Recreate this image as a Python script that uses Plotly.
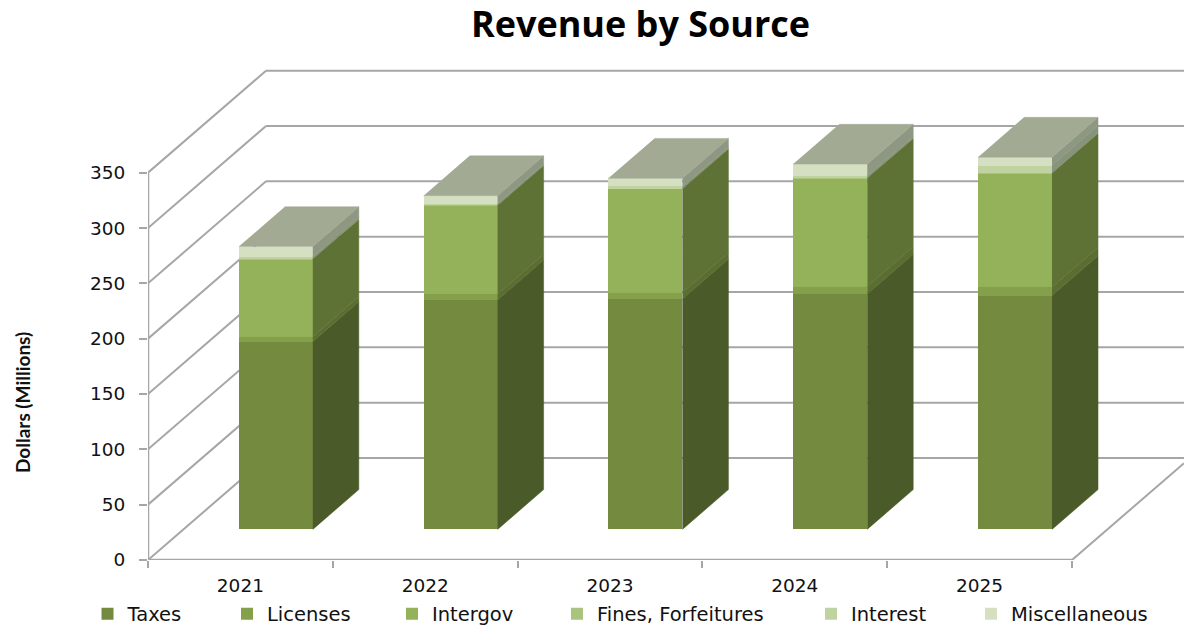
import plotly.graph_objects as go

# Revenue by source, fiscal years 2021-2025 (millions of dollars)
years = ["2021", "2022", "2023", "2024", "2025"]
taxes = [169.7, 207.4, 208.3, 212.8, 211.3]
licenses = [4.5, 5.2, 5.7, 6.6, 7.6]
intergov = [70.0, 80.0, 93.7, 98.0, 103.0]
fines = [0.8, 0.7, 0.7, 0.7, 0.5]
interest = [1.5, 1.0, 1.5, 1.5, 6.4]
miscellaneous = [9.1, 7.3, 7.5, 10.5, 7.6]

series_names = ["Taxes", "Licenses", "Intergov", "Fines, Forfeitures", "Interest", "Miscellaneous"]
series_values = [taxes, licenses, intergov, fines, interest, miscellaneous]
front_colors = ["#748B3F", "#84A04A", "#93B259", "#A9C47F", "#BFD2A0", "#D5E0C2"]
side_colors = ["#4A5A29", "#5B6E31", "#5F7236", "#6E7F4E", "#87937A", "#8E9782"]
top_color = "#A2AA93"
grid_color = "#A6A6A6"
text_color = "#111111"

y_ticks = [0, 50, 100, 150, 200, 250, 300, 350]

# Oblique projection: one unit of depth shifts a point right and up in data units
PX_PER_CATEGORY = 184.8
PX_PER_VALUE = 1.1066
DEPTH_X = 118 / PX_PER_CATEGORY
DEPTH_Y = 102 / PX_PER_VALUE
BAR_WIDTH = 74 / PX_PER_CATEGORY
BAR_NEAR = 0.30
BAR_FAR = 0.69

PLOT_LEFT, PLOT_BOTTOM, PLOT_TOP = 148, 560, 60
X_MIN = -0.5
X_MAX = X_MIN + (1184 - PLOT_LEFT) / PX_PER_CATEGORY
X_END = X_MIN + len(years)
Y_MAX = (PLOT_BOTTOM - PLOT_TOP) / PX_PER_VALUE


def project(x, value, depth):
    return x + depth * DEPTH_X, value + depth * DEPTH_Y


def wall_line(x0, y0, x1, y1, width=2):
    return dict(type="line", layer="below", xref="x", yref="y", x0=x0, y0=y0, x1=x1, y1=y1,
                line=dict(color=grid_color, width=width))


shapes = []
for v in y_ticks:
    bx, by = project(X_MIN, v, 1)
    shapes.append(wall_line(X_MIN, v, bx, by))        # side wall
    shapes.append(wall_line(bx, by, X_MAX, by))       # back wall
fx, fy = project(X_END, 0, (X_MAX - X_END) / DEPTH_X)
shapes.append(wall_line(X_END, 0, fx, fy))            # right edge of the floor
shapes.append(wall_line(X_MIN, 0, X_MIN, y_ticks[-1], 2.5))  # value axis
shapes.append(wall_line(X_MIN, 0, X_END, 0, 2.5))     # category axis

fig = go.Figure()

centers = list(range(len(years)))
bar_x = [project(c, 0, BAR_NEAR)[0] for c in centers]
floor = project(0, 0, BAR_NEAR)[1]
running = [floor] * len(years)

legend_text_px = [127.5, 267, 432, 597, 851, 1011]
legend_keys = ["legend", "legend2", "legend3", "legend4", "legend5", "legend6"]
legends = {}

for k, (name, values) in enumerate(zip(series_names, series_values)):
    bases = list(running)
    fig.add_trace(go.Bar(
        x=bar_x, y=values, base=bases, width=BAR_WIDTH, name=name,
        marker=dict(color=front_colors[k], line=dict(width=0)),
        legend=legend_keys[k], customdata=years, hovertemplate="%{customdata}: %{y}<extra>" + name + "</extra>",
    ))
    # right-hand face of each stacked segment
    sx, sy = [], []
    for i, c in enumerate(centers):
        right = c + BAR_WIDTH / 2
        top = bases[i] - floor + values[i]
        low = bases[i] - floor
        for v, d in [(low, BAR_NEAR), (low, BAR_FAR), (top, BAR_FAR), (top, BAR_NEAR)]:
            px, py = project(right, v, d)
            sx.append(px)
            sy.append(py)
        sx.append(None)
        sy.append(None)
        running[i] = bases[i] + values[i]
    fig.add_trace(go.Scatter(
        x=sx, y=sy, mode="lines", fill="toself", fillcolor=side_colors[k],
        line=dict(color=side_colors[k], width=0.5), showlegend=False, hoverinfo="skip",
    ))
    legends[legend_keys[k]] = dict(
        x=(legend_text_px[k] - 40 - PLOT_LEFT) / (1184 - PLOT_LEFT),
        y=(PLOT_BOTTOM - 614) / (PLOT_BOTTOM - PLOT_TOP),
        xanchor="left", yanchor="middle", orientation="h", bgcolor="rgba(0,0,0,0)",
        font=dict(family="DejaVu Sans", size=19.5, color=text_color),
        tracegroupgap=0, itemclick=False, itemdoubleclick=False,
    )

# Top faces of the stacks
tx, ty = [], []
for i, c in enumerate(centers):
    height = running[i] - floor
    left, right = c - BAR_WIDTH / 2, c + BAR_WIDTH / 2
    for x, d in [(left, BAR_NEAR), (right, BAR_NEAR), (right, BAR_FAR), (left, BAR_FAR)]:
        px, py = project(x, height, d)
        tx.append(px)
        ty.append(py)
    tx.append(None)
    ty.append(None)
fig.add_trace(go.Scatter(
    x=tx, y=ty, mode="lines", fill="toself", fillcolor=top_color,
    line=dict(color=top_color, width=0.5), showlegend=False, hoverinfo="skip",
))

fig.update_layout(
    width=1184, height=626,
    margin=dict(l=PLOT_LEFT, r=0, t=PLOT_TOP, b=626 - PLOT_BOTTOM, pad=0, autoexpand=False),
    paper_bgcolor="white", plot_bgcolor="white",
    barmode="overlay", bargap=0,
    title=dict(
        text="Revenue by Source", x=640.5 / 1184, xanchor="center", y=1 - 24 / 626, yanchor="middle",
        font=dict(family="Open Sans", size=36, weight=700, color="#000000"),
    ),
    xaxis=dict(
        range=[X_MIN, X_MAX], showgrid=False, zeroline=False, showline=False,
        tickmode="array", tickvals=centers, ticktext=years, ticks="", ticklabelstandoff=12,
        tickfont=dict(family="DejaVu Sans", size=18.5, color=text_color),
        minor=dict(
            tickmode="array", tickvals=[X_MIN + j for j in range(len(years) + 1)],
            ticks="outside", ticklen=7, tickwidth=2, tickcolor=grid_color, showgrid=False,
        ),
    ),
    yaxis=dict(
        range=[0, Y_MAX], showgrid=False, zeroline=False, showline=False,
        tickmode="array", tickvals=y_ticks, ticks="outside", ticklen=8, tickwidth=2,
        tickcolor=grid_color, ticklabelstandoff=10,
        tickfont=dict(family="DejaVu Sans", size=18.5, color=text_color),
    ),
    shapes=shapes,
    annotations=[dict(
        text="Dollars (Millions)", textangle=-90, xref="paper", yref="paper",
        x=(22 - PLOT_LEFT) / (1184 - PLOT_LEFT), y=(PLOT_BOTTOM - 403) / (PLOT_BOTTOM - PLOT_TOP),
        xanchor="center", yanchor="middle", showarrow=False,
        font=dict(family="Lato", size=19, weight=700, color=text_color),
    )],
    **legends,
)

fig.write_html("out.html")
